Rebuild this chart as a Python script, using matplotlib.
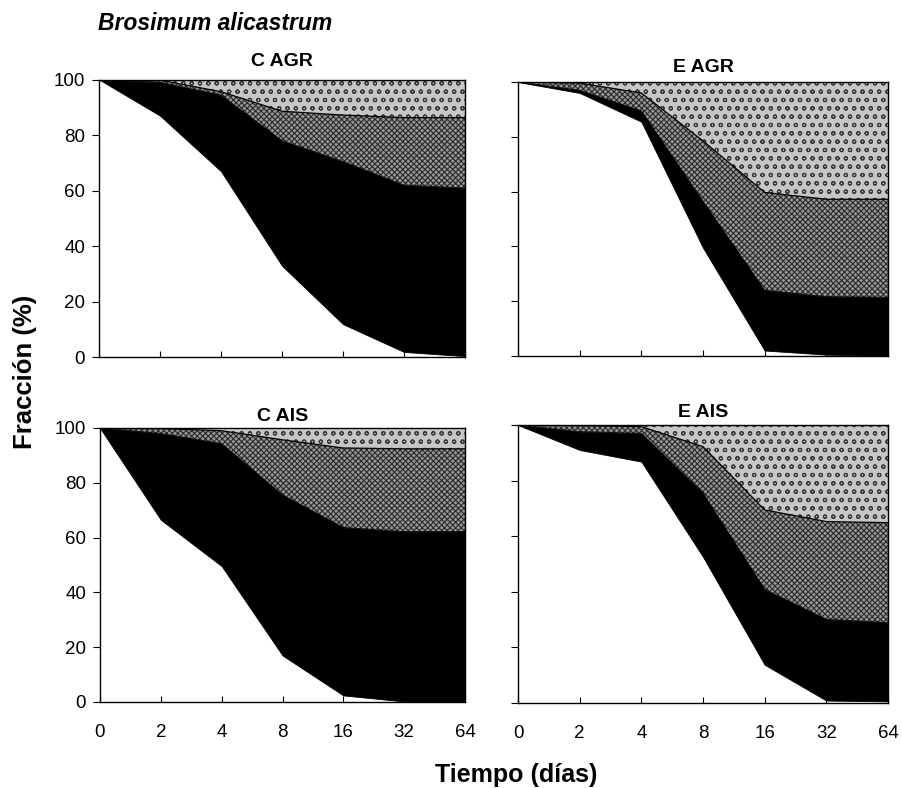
import numpy as np
import matplotlib
matplotlib.use('Agg')
import matplotlib.pyplot as plt

plt.rcParams['font.family'] = ['Liberation Sans', 'DejaVu Sans']
plt.rcParams['hatch.linewidth'] = 0.8

# time axis (days), plotted as equally spaced categories
days = ['0', '2', '4', '8', '16', '32', '64']
yticks = [0, 20, 40, 60, 80, 100]

# cumulative boundaries (%): top of white, black and dark-hatch layers
c_agr_white = [100, 87, 67, 33, 12, 2, 0.5]
c_agr_black = [100, 99, 94.4, 78, 70.5, 62, 61]
c_agr_gray = [100, 99.8, 95.6, 88.6, 87.2, 86.3, 86.3]

e_agr_white = [100, 96, 85.5, 39.5, 2, 0.5, 0]
e_agr_black = [100, 97, 89.5, 56.5, 24, 21.7, 21.4]
e_agr_gray = [100, 99.6, 96, 78.5, 59.7, 57.2, 57.2]

c_ais_white = [100, 66.5, 49.6, 17, 2.4, 0.2, 0]
c_ais_black = [100, 98, 94.3, 75.6, 63.7, 62.2, 62.2]
c_ais_gray = [100, 99.8, 99, 95.7, 92.7, 92.4, 92.4]

e_ais_white = [100, 91, 86.8, 52.5, 13.6, 0.7, 0.4]
e_ais_black = [100, 97.6, 97, 75.5, 40.8, 30, 28.8]
e_ais_gray = [100, 99.8, 99.4, 92.2, 69.4, 65.2, 64.8]

panels = [
    ('C AGR', c_agr_white, c_agr_black, c_agr_gray),
    ('E AGR', e_agr_white, e_agr_black, e_agr_gray),
    ('C AIS', c_ais_white, c_ais_black, c_ais_gray),
    ('E AIS', e_ais_white, e_ais_black, e_ais_gray),
]

W, H = 903, 788
fig = plt.figure(figsize=(W / 100, H / 100), dpi=100)


def px_axes(left, right, top, bottom):
    return fig.add_axes([left / W, (H - bottom) / H, (right - left) / W, (bottom - top) / H])


# pixel boxes of each panel, plus title pad
boxes = [(99, 465, 79.5, 357.5, 10), (518, 888, 82, 356, 7),
         (100, 465, 428, 702, 5), (518, 888, 425, 702.5, 6)]

x = np.arange(len(days))
for i, (name, white, black, gray) in enumerate(panels):
    l, r, t, b, pad = boxes[i]
    ax = px_axes(l, r, t, b)
    ax.fill_between(x, 0, white, facecolor='white', lw=0)
    ax.fill_between(x, white, black, facecolor='black', edgecolor='black', lw=0.6)
    ax.fill_between(x, black, gray, facecolor='#969696', edgecolor='#2a2a2a',
                    hatch='xxxxxx', lw=0)
    ax.fill_between(x, gray, 100, facecolor='#c6c6c6', edgecolor='#3a3a3a',
                    hatch='oo', lw=0)
    ax.plot(x, gray, color='black', lw=0.9)
    ax.plot(x, black, color='black', lw=0.6)

    ax.set_xlim(0, len(days) - 1)
    ax.set_ylim(0, 100)
    ax.set_xticks(x)
    ax.set_yticks(yticks)
    ax.set_xticklabels(days)
    ax.tick_params(axis='x', direction='in', length=4, pad=16, labelsize=13.5,
                   labelbottom=(i >= 2))
    ax.tick_params(axis='y', direction='out', length=5, pad=5, labelsize=13.5,
                   labelleft=(i % 2 == 0))
    for s in ax.spines.values():
        s.set_linewidth(1.0)
    ax.set_title(name, fontsize=14, fontweight='bold', pad=pad)

fig.text(98 / W, 1 - 30 / H, 'Brosimum alicastrum', fontsize=16.5, fontweight='bold',
         fontstyle='italic', ha='left', va='baseline')
fig.text(25 / W, 1 - 372 / H, 'Fracción (%)', fontsize=18.5, fontweight='bold',
         rotation=90, ha='center', va='center')
fig.text(516 / W, 1 - 782 / H, 'Tiempo (días)', fontsize=18, fontweight='bold',
         ha='center', va='baseline')

fig.savefig('out.png', dpi=100)
